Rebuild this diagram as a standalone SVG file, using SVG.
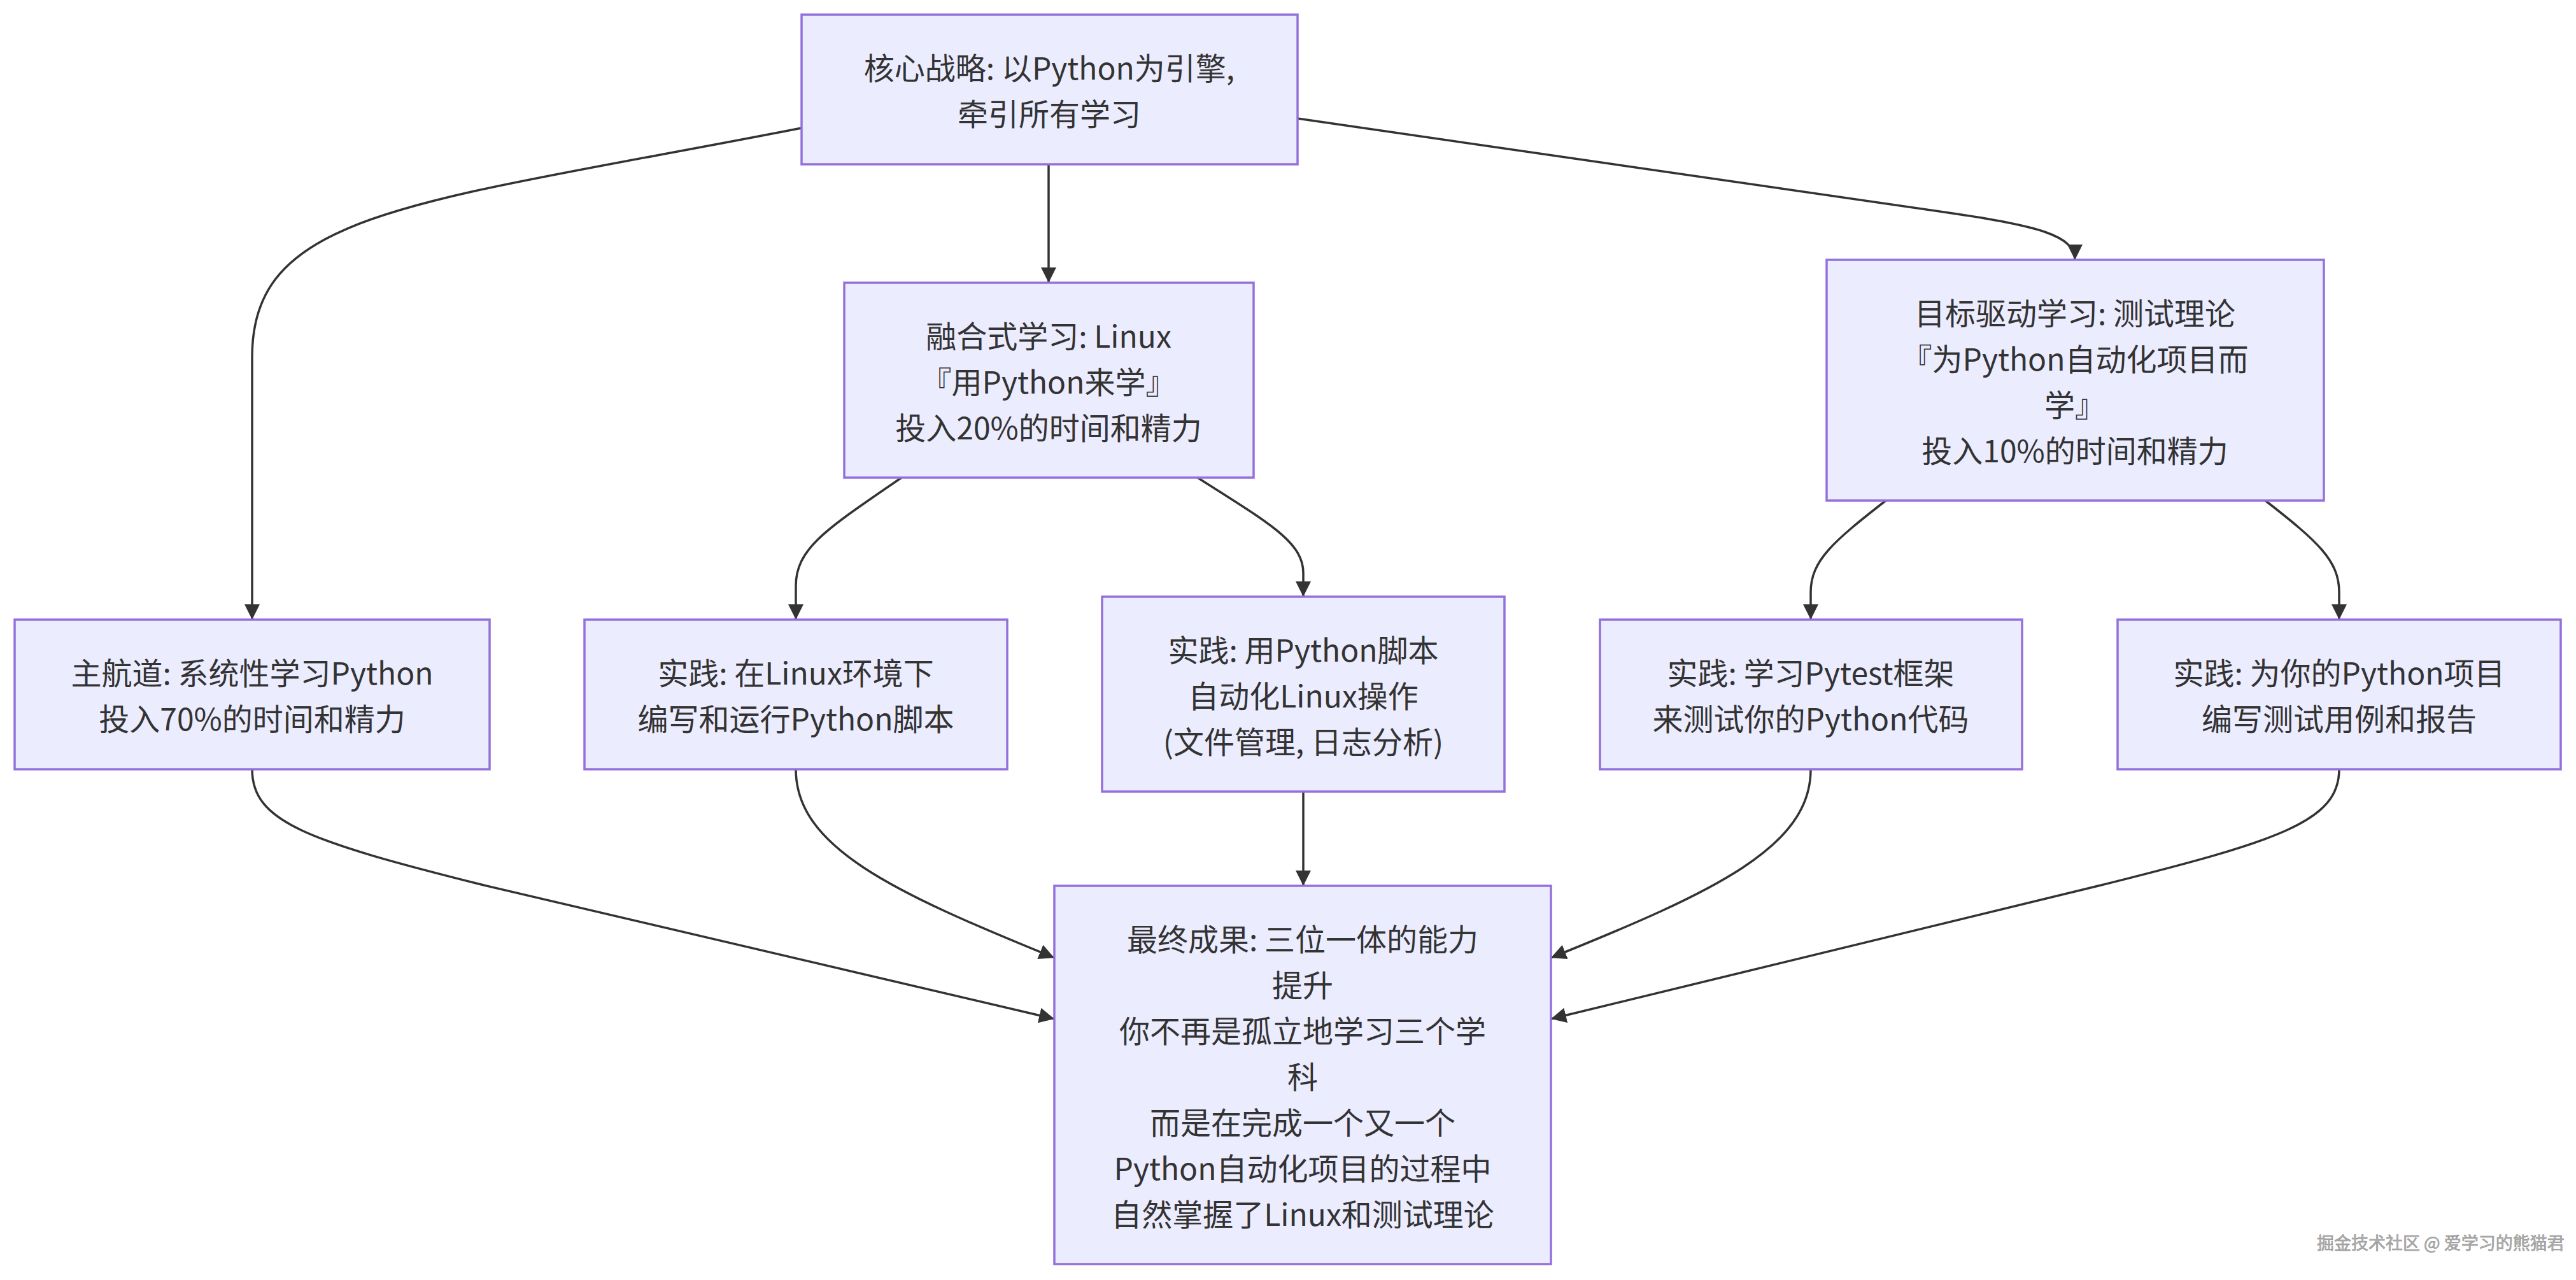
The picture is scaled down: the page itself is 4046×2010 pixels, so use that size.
<svg xmlns="http://www.w3.org/2000/svg" width="4046" height="2010" viewBox="0 0 4046 2010">
<defs>
<marker id="arrow" viewBox="0 0 10 10" refX="10" refY="5" markerUnits="userSpaceOnUse" markerWidth="24" markerHeight="24" orient="auto">
<path d="M0,0 L10,5 L0,10 z" fill="#333333"/>
</marker>
<style>
.node rect{fill:#ECECFF;stroke:#9370DB;stroke-width:3.5}
.node text{font-family:"Noto Sans CJK SC","Noto Sans",sans-serif;font-size:48px;fill:#333333;text-anchor:middle;dominant-baseline:central}
.edges path{fill:none;stroke:#333333;stroke-width:3.5;marker-end:url(#arrow)}
.wm{font-family:"Noto Sans CJK SC",sans-serif;font-size:27px;fill:#b4b4b4;stroke:#888;stroke-width:0.6;dominant-baseline:central}
</style>
</defs>
<rect width="4046" height="2010" fill="#ffffff"/>
<g class="edges">
<path d="M1259,201 C650,320 396,330 396,560 L396,973"/>
<path d="M1647,258 L1647,444"/>
<path d="M2038,186 L3060,334 C3200,354 3259,370 3259,408"/>
<path d="M1416,750 C1300,830 1250,860 1250,920 L1250,973"/>
<path d="M1881,750 C1990,820 2047,850 2047,900 L2047,937"/>
<path d="M2962,786 C2880,850 2844,880 2844,930 L2844,973"/>
<path d="M3558,786 C3640,850 3674,880 3674,930 L3674,973"/>
<path d="M396,1208 C396,1290 480,1320 760,1390 L1656,1600"/>
<path d="M1250,1208 C1250,1330 1400,1400 1656,1504"/>
<path d="M2047,1243 L2047,1391"/>
<path d="M2844,1208 C2844,1330 2694,1400 2436,1504"/>
<path d="M3674,1208 C3674,1290 3580,1320 3300,1390 L2436,1600"/>
</g>
<g id="n-core" class="node">
<rect x="1259" y="23" width="779" height="235"/>
<text x="1648" y="104">核心战略: 以Python为引擎,</text>
<text x="1648" y="176">牵引所有学习</text>
</g>
<g id="n-linux" class="node">
<rect x="1326" y="444" width="643" height="306"/>
<text x="1647" y="525">融合式学习: Linux</text>
<text x="1647" y="597">『用Python来学』</text>
<text x="1647" y="669">投入20%的时间和精力</text>
</g>
<g id="n-test" class="node">
<rect x="2869" y="408" width="781" height="378"/>
<text x="3259" y="489">目标驱动学习: 测试理论</text>
<text x="3259" y="561">『为Python自动化项目而</text>
<text x="3259" y="633">学』</text>
<text x="3259" y="705">投入10%的时间和精力</text>
</g>
<g id="n-python" class="node">
<rect x="23" y="973" width="746" height="235"/>
<text x="396" y="1054">主航道: 系统性学习Python</text>
<text x="396" y="1126">投入70%的时间和精力</text>
</g>
<g id="n-prac1" class="node">
<rect x="918" y="973" width="664" height="235"/>
<text x="1250" y="1054">实践: 在Linux环境下</text>
<text x="1250" y="1126">编写和运行Python脚本</text>
</g>
<g id="n-prac2" class="node">
<rect x="1731" y="937" width="632" height="306"/>
<text x="2047" y="1018">实践: 用Python脚本</text>
<text x="2047" y="1090">自动化Linux操作</text>
<text x="2047" y="1162">(文件管理, 日志分析)</text>
</g>
<g id="n-prac3" class="node">
<rect x="2513" y="973" width="663" height="235"/>
<text x="2844" y="1054">实践: 学习Pytest框架</text>
<text x="2844" y="1126">来测试你的Python代码</text>
</g>
<g id="n-prac4" class="node">
<rect x="3326" y="973" width="696" height="235"/>
<text x="3674" y="1054">实践: 为你的Python项目</text>
<text x="3674" y="1126">编写测试用例和报告</text>
</g>
<g id="n-final" class="node">
<rect x="1656" y="1391" width="780" height="594"/>
<text x="2046" y="1472">最终成果: 三位一体的能力</text>
<text x="2046" y="1544">提升</text>
<text x="2046" y="1616">你不再是孤立地学习三个学</text>
<text x="2046" y="1688">科</text>
<text x="2046" y="1760">而是在完成一个又一个</text>
<text x="2046" y="1832">Python自动化项目的过程中</text>
<text x="2046" y="1904">自然掌握了Linux和测试理论</text>
</g>
<text class="wm" x="3639" y="1950">掘金技术社区 @ 爱学习的熊猫君</text>
</svg>
